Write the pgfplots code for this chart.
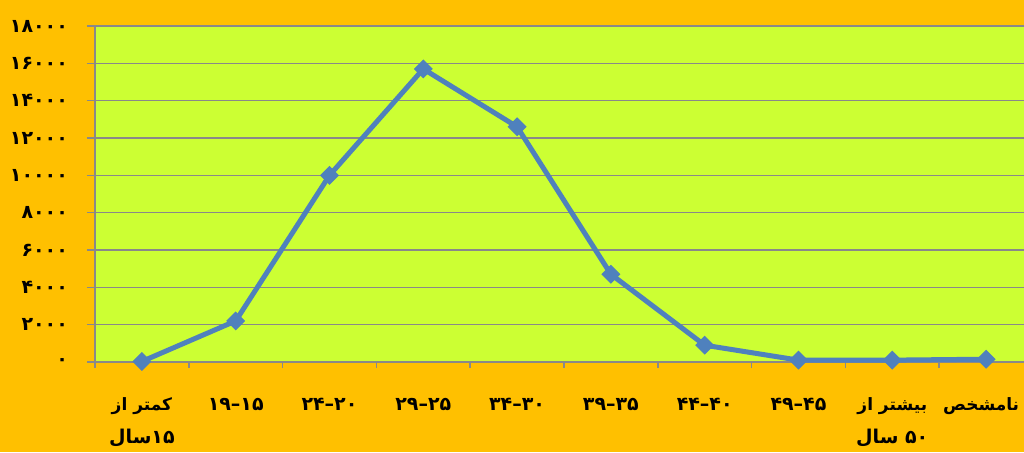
\documentclass[border=0pt]{standalone}
\usepackage{pgfplots}
\pgfplotsset{compat=1.18}
\usepackage{fontspec}
\setmainfont{DejaVu Sans}
\newfontfamily\pf[Script=Arabic]{DejaVu Sans}
\TeXXeTstate=1
\definecolor{bgorange}{HTML}{FFC000}
\definecolor{plotlime}{HTML}{CCFF33}
\definecolor{gridgray}{HTML}{898989}
\definecolor{lineblue}{HTML}{4F81BD}
% word labels are set a little smaller than the digit ranges
\newcommand{\wsz}{\fontsize{8.5}{16.5}\selectfont}

\begin{document}
\begin{tikzpicture}
% page = 1024 x 452 px at 0.5pt per px
\fill[bgorange] (0pt,0pt) rectangle (512pt,226pt);
\useasboundingbox (0pt,0pt) rectangle (512pt,226pt);
\begin{axis}[
    at={(47.5pt,45pt)}, anchor=south west,
    scale only axis,
    width=464.5pt, height=168pt,
    xmin=-0.5, xmax=9.404,
    ymin=0, ymax=18000,
    scaled y ticks=false,
    axis background/.style={fill=plotlime},
    axis x line=bottom, axis y line=left,
    axis line style={-, draw=gridgray, line width=0.75pt},
    ymajorgrids=true,
    grid style={draw=gridgray, line width=0.75pt},
    tick align=outside,
    ytick={0,2000,...,18000},
    yticklabels={۰,۲۰۰۰,۴۰۰۰,۶۰۰۰,۸۰۰۰,۱۰۰۰۰,۱۲۰۰۰,۱۴۰۰۰,۱۶۰۰۰,۱۸۰۰۰},
    yticklabel style={font=\pf\bfseries\fontsize{9.5}{12}\selectfont, anchor=east, xshift=-6pt},
    ytick style={draw=gridgray, line width=0.75pt},
    major tick length=4pt,
    xtick={0,...,9},
    xticklabels={
      {\wsz\beginR کمتر از\endR\\\beginR ۱۵سال\endR},
      {\beginR ۱۵–۱۹\endR}, {\beginR ۲۰–۲۴\endR}, {\beginR ۲۵–۲۹\endR},
      {\beginR ۳۰–۳۴\endR}, {\beginR ۳۵–۳۹\endR}, {\beginR ۴۰–۴۴\endR},
      {\beginR ۴۵–۴۹\endR},
      {\wsz\beginR بیشتر از\endR\\\beginR ۵۰ سال\endR},
      {\wsz\beginR نامشخص\endR\hspace*{5pt}}},
    xticklabel style={font=\pf\bfseries\fontsize{9.5}{16.5}\selectfont, align=center, anchor=north, yshift=-10.5pt},
    xtick style={draw=none},
    extra x ticks={-0.5,0.5,...,8.5},
    extra x tick labels={},
    extra x tick style={xtick style={draw=gridgray, line width=0.75pt}, major tick length=3pt},
    clip=false,
]
\addplot[color=lineblue, line width=2.5pt, mark=square*, mark size=3.1pt,
    mark options={rotate=45, fill=lineblue, draw=lineblue, line width=0.5pt}]
    coordinates {
    (0,30)(1,2200)(2,10000)(3,15700)(4,12600)(5,4700)(6,900)(7,100)(8,100)(9,150)
    };
\end{axis}
\end{tikzpicture}
\end{document}
